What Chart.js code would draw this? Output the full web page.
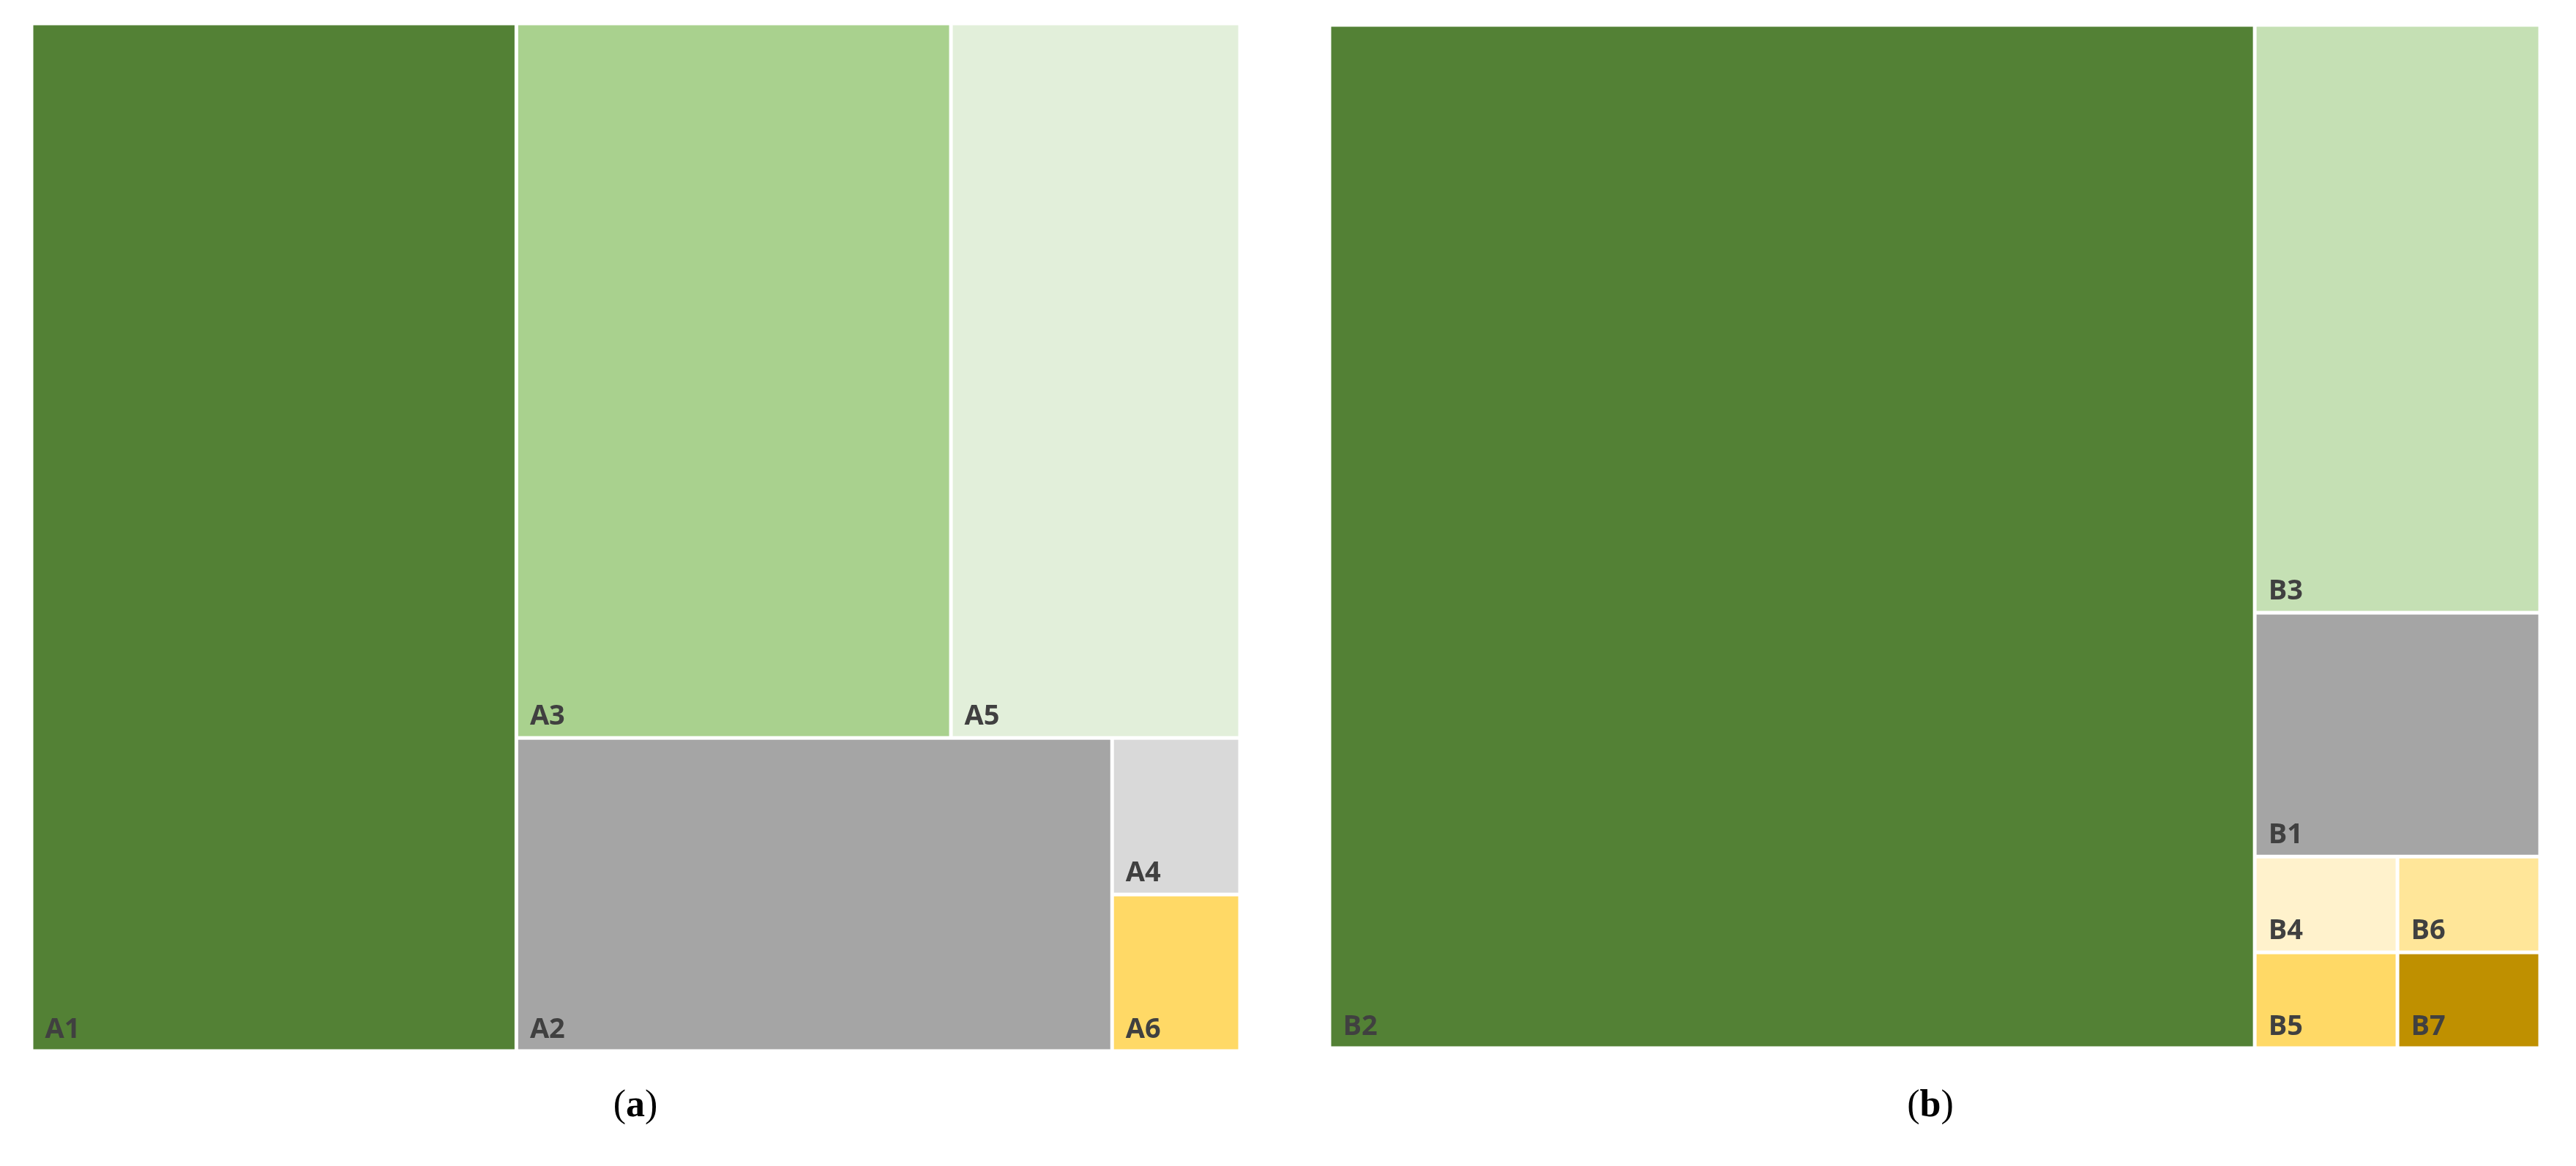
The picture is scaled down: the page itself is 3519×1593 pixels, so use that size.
<!DOCTYPE html>
<html><head><meta charset="utf-8">
<script src="https://cdn.jsdelivr.net/npm/chart.js@4"></script>
<style>
body{margin:0;background:#fff;width:3519px;height:1593px;position:relative;overflow:hidden}
.p{position:absolute}
.cap{position:absolute;font-family:"Liberation Serif",serif;font-size:52px;color:#000;transform:translateX(-50%)}
</style></head><body>
<div class="p" style="left:43px;top:32px;width:1651px;height:1404px"><canvas id="ca"></canvas></div>
<div class="p" style="left:1816px;top:34px;width:1654px;height:1398px"><canvas id="cb"></canvas></div>
<div class="cap" style="left:868px;top:1478px">(<b>a</b>)</div>
<div class="cap" style="left:2637px;top:1478px">(<b>b</b>)</div>
<script>
// Panel (a)
const labelsA = ["A1","A2","A3","A4","A5","A6"];
const valuesA = [39.8, 14.9, 24.8, 1.6, 16.5, 1.6];
const colorsA = ["#538135","#a5a5a5","#a9d18e","#d9d9d9","#e2efda","#ffd966"];
// nesting: h = side by side, v = stacked
const treeA = {d:"h",c:["A1",{d:"v",c:[{d:"h",c:["A3","A5"]},{d:"h",c:["A2",{d:"v",c:["A4","A6"]}]}]}]};
// Panel (b)
const labelsB = ["B1","B2","B3","B4","B5","B6","B7"];
const valuesB = [5.6, 76.2, 13.5, 1.1, 1.1, 1.1, 1.1];
const colorsB = ["#a5a5a5","#538135","#c5e0b4","#fff2cc","#ffd966","#ffe699","#bf9000"];
const treeB = {d:"h",c:["B2",{d:"v",c:["B3","B1",{d:"h",c:[{d:"v",c:["B4","B5"]},{d:"v",c:["B6","B7"]}]}]}]};

function sum(n,map){return typeof n==="string"?map[n]:n.c.reduce((s,k)=>s+sum(k,map),0);}
function layout(n,map,x0,y0,x1,y1,out){
  if(typeof n==="string"){out.push({k:n,x0,y0,x1,y1});return;}
  const tot=sum(n,map);let p=n.d==="h"?x0:y1;
  n.c.forEach(k=>{const f=sum(k,map)/tot;
    if(n.d==="h"){const q=p+f*(x1-x0);layout(k,map,p,y0,q,y1,out);p=q;}
    else{const q=p-f*(y1-y0);layout(k,map,x0,q,x1,p,out);p=q;}});
}
function make(id,labels,values,colors,tree){
  const map={};labels.forEach((l,i)=>map[l]=values[i]);
  const rects=[];layout(tree,map,0,0,1,1,rects);
  const plugin={id:"tm",afterDatasetsDraw(ch){
    const ctx=ch.ctx,xs=ch.scales.x,ys=ch.scales.y,g=2.5;
    rects.forEach(r=>{const i=labels.indexOf(r.k);
      const L=xs.getPixelForValue(r.x0)+g,R=xs.getPixelForValue(r.x1)-g;
      const T=ys.getPixelForValue(r.y1)+g,B=ys.getPixelForValue(r.y0)-g;
      ctx.fillStyle=colors[i];ctx.fillRect(L,T,R-L,B-T);
      ctx.fillStyle="#404040";ctx.font="bold 38px 'Open Sans','Liberation Sans',sans-serif";
      ctx.textBaseline="alphabetic";ctx.fillText(r.k,L+16,B-16);});
  }};
  new Chart(document.getElementById(id),{type:"scatter",data:{datasets:[{data:[]}]},
    options:{responsive:true,maintainAspectRatio:false,animation:false,devicePixelRatio:1,
      layout:{padding:0},plugins:{legend:{display:false},tooltip:{enabled:false}},
      scales:{x:{type:"linear",min:0,max:1,display:false},y:{type:"linear",min:0,max:1,display:false}}},
    plugins:[plugin]});
}
make("ca",labelsA,valuesA,colorsA,treeA);
make("cb",labelsB,valuesB,colorsB,treeB);
</script></body></html>
